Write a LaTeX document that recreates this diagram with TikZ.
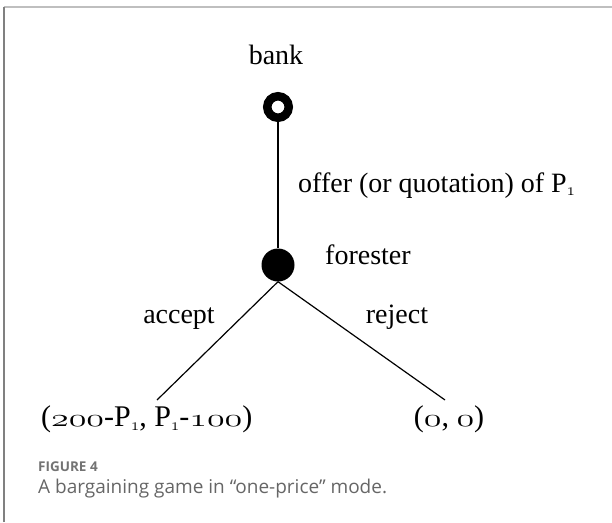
\documentclass[tikz,border=0pt]{standalone}
\usepackage{fontspec}
\setmainfont{Liberation Serif}
\newfontfamily\capfont{Open Sans}
% wide old-style digits taken from the math italic font
\newcommand{\osn}[1]{\scalebox{1.45}[1]{\ensuremath{\mathnormal{#1}}}}
\newcommand{\subone}{\raisebox{-0.3ex}{\fontsize{19}{21}\selectfont\ensuremath{\mathnormal{1}}}}
\begin{document}
\begin{tikzpicture}[x=1pt,y=-1pt,
  branch/.style={draw=black,line width=1.2pt},
  lbl/.style={font=\fontsize{28}{32}\selectfont,inner sep=0pt,anchor=base},
  payoff/.style={font=\fontsize{30}{34}\selectfont,inner sep=0pt,anchor=base},
]
\useasboundingbox (0,0) rectangle (612,522);
% frame
\draw[draw=black!25,line width=1.5pt] (3.5,7) -- (612,7);
\draw[draw=black!50,line width=1.5pt] (4,522) -- (4,6.5);

% decision nodes
\node[circle,inner sep=0pt,draw=black,line width=8.5pt,minimum size=21.5pt] (bank) at (278,107) {};
\node[circle,inner sep=0pt,fill=black,minimum size=33pt] (forester) at (278,265) {};
\coordinate (acc) at (157,400);
\coordinate (rej) at (445,400);

% player labels
\node[lbl] (banklbl) at (276,64) {bank};
\node[lbl,anchor=base west] (forlbl) at (325,264) {forester};

% moves
\draw[branch] (bank.south) -- (forester.north);
\draw[branch] (forester.south) -- (acc);
\draw[branch] (forester.south) -- (rej);

\node[lbl,anchor=base west] (offer) at (298,192) {offer (or quotation) of P\raisebox{-0.25ex}{\fontsize{19}{21}\selectfont\ensuremath{\mathnormal{1}}}};
\node[lbl] (accept) at (179,323) {accept};
\node[lbl] (reject) at (397,323) {reject};

% payoffs
\node[payoff,anchor=base west] (pay1) at (41,426) {(\osn{200}-P\subone, P\subone-\osn{100})};
\node[payoff] (pay2) at (449,426) {(\osn{0}, \osn{0})};

% caption
\node[anchor=base west,inner sep=0pt,text=black!55,font=\capfont\bfseries\fontsize{13.5}{16}\selectfont] (fig) at (38,471) {FIGURE 4};
\node[anchor=base west,inner sep=0pt,text=black!60,font=\capfont\fontsize{19}{22}\selectfont] (cap) at (38,493) {A bargaining game in “one-price” mode.};
\end{tikzpicture}
\end{document}
